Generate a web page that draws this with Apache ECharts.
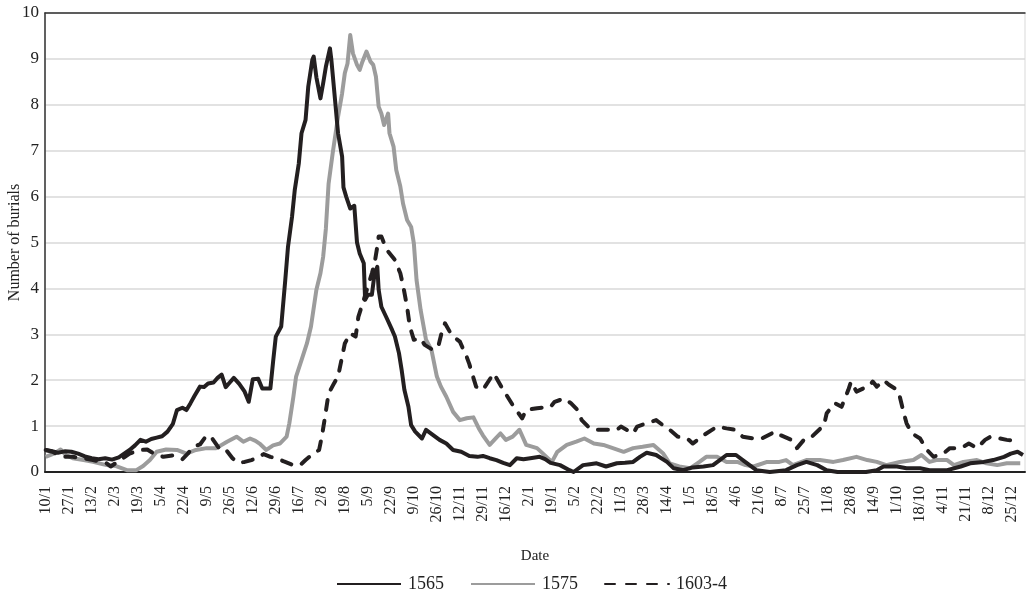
<!DOCTYPE html>
<html>
<head>
<meta charset="utf-8">
<script src="https://cdn.jsdelivr.net/npm/echarts@6/dist/echarts.min.js"></script>
<style>html,body{margin:0;padding:0;background:#fff}#c{width:1026px;height:596px}</style>
</head>
<body>
<div id="c"></div>
<script>
// Tick labels (every 17 days, starting 10/1)
const tickLabels = ['10/1','27/1','13/2','2/3','19/3','5/4','22/4','9/5','26/5','12/6','29/6','16/7','2/8','19/8','5/9','22/9','9/10','26/10','12/11','29/11','16/12','2/1','19/1','5/2','22/2','11/3','28/3','14/4','1/5','18/5','4/6','21/6','8/7','25/7','11/8','28/8','14/9','1/10','18/10','4/11','21/11','8/12','25/12'];
const dayCount = 724;
const tickStep = 17;

// [day index from 10/1, number of burials]
const s1565 = [[0,0.48],[4,0.46],[9,0.42],[14,0.45],[19,0.44],[24,0.40],[29,0.34],[34,0.30],[39,0.28],[44,0.30],[49,0.27],[54,0.32],[58,0.40],[62,0.48],[66,0.58],[70,0.70],[74,0.66],[78,0.72],[82,0.75],[86,0.78],[90,0.88],[94,1.05],[97,1.35],[101,1.40],[104,1.35],[107,1.50],[110,1.66],[114,1.86],[117,1.85],[120,1.93],[124,1.95],[127,2.05],[130,2.12],[133,1.85],[136,1.95],[139,2.05],[143,1.92],[147,1.75],[150,1.53],[153,2.02],[157,2.03],[160,1.82],[163,1.82],[166,1.82],[168,2.40],[170,2.95],[174,3.17],[177,4.18],[179,4.90],[182,5.56],[184,6.14],[187,6.72],[189,7.38],[192,7.67],[194,8.40],[197,8.98],[198,9.05],[200,8.60],[203,8.14],[205,8.47],[207,8.83],[210,9.23],[211,9.00],[214,8.03],[216,7.38],[219,6.87],[220,6.20],[222,6.00],[225,5.74],[228,5.80],[230,5.00],[232,4.76],[235,4.55],[236,3.75],[238,3.86],[241,3.86],[243,4.33],[245,4.47],[246,3.97],[248,3.60],[252,3.35],[256,3.09],[258,2.95],[261,2.59],[263,2.22],[265,1.79],[268,1.42],[270,1.02],[273,0.88],[278,0.73],[281,0.92],[286,0.81],[291,0.70],[296,0.62],[301,0.48],[307,0.44],[313,0.35],[319,0.33],[323,0.35],[328,0.30],[333,0.26],[338,0.20],[343,0.15],[348,0.30],[353,0.28],[358,0.30],[365,0.33],[369,0.28],[373,0.20],[380,0.15],[387,0.04],[390,0.00],[397,0.15],[402,0.17],[407,0.19],[414,0.12],[422,0.19],[428,0.20],[434,0.22],[439,0.33],[444,0.42],[451,0.37],[459,0.22],[464,0.08],[471,0.04],[478,0.10],[486,0.12],[493,0.15],[498,0.26],[503,0.37],[510,0.37],[515,0.26],[520,0.15],[525,0.04],[535,0.00],[547,0.04],[555,0.15],[562,0.22],[570,0.15],[577,0.04],[585,0.00],[592,0.00],[606,0.00],[614,0.04],[619,0.12],[629,0.12],[636,0.08],[646,0.08],[653,0.04],[666,0.04],[676,0.12],[683,0.19],[693,0.22],[700,0.26],[708,0.33],[713,0.40],[718,0.44],[722,0.37]];

const s1575 = [[0,0.33],[6,0.40],[11,0.49],[15,0.37],[20,0.30],[28,0.26],[35,0.22],[45,0.15],[52,0.13],[60,0.04],[67,0.04],[72,0.13],[77,0.26],[82,0.44],[89,0.49],[97,0.48],[104,0.40],[111,0.48],[119,0.52],[126,0.52],[134,0.66],[141,0.77],[146,0.66],[151,0.73],[155,0.68],[158,0.62],[163,0.48],[168,0.58],[173,0.62],[178,0.77],[180,1.06],[183,1.64],[185,2.08],[189,2.44],[193,2.80],[196,3.17],[200,3.97],[203,4.33],[205,4.69],[207,5.30],[209,6.28],[212,6.94],[216,7.74],[219,8.25],[221,8.69],[223,8.90],[225,9.52],[227,9.12],[230,8.87],[232,8.76],[234,8.94],[237,9.16],[240,8.94],[242,8.87],[244,8.61],[246,7.96],[248,7.81],[250,7.56],[253,7.81],[254,7.38],[257,7.09],[259,6.58],[262,6.22],[264,5.85],[267,5.49],[270,5.34],[272,4.98],[274,4.18],[277,3.53],[281,2.88],[285,2.66],[289,2.08],[292,1.86],[296,1.64],[301,1.31],[306,1.13],[311,1.17],[316,1.19],[320,0.95],[323,0.80],[328,0.59],[333,0.75],[336,0.84],[340,0.70],[345,0.77],[350,0.92],[355,0.59],[363,0.52],[370,0.33],[374,0.22],[378,0.44],[385,0.59],[392,0.66],[398,0.73],[405,0.62],[412,0.59],[419,0.52],[427,0.44],[434,0.52],[441,0.55],[449,0.59],[456,0.41],[461,0.19],[468,0.12],[476,0.08],[483,0.22],[488,0.33],[496,0.33],[503,0.22],[511,0.22],[517,0.15],[523,0.12],[533,0.22],[542,0.22],[547,0.26],[552,0.15],[562,0.26],[572,0.26],[582,0.22],[589,0.26],[599,0.33],[607,0.26],[614,0.22],[621,0.15],[631,0.22],[641,0.26],[647,0.37],[653,0.22],[658,0.26],[666,0.26],[671,0.15],[678,0.22],[688,0.26],[695,0.19],[703,0.15],[710,0.19],[720,0.19]];

const s1603 = [[0,0.48],[5,0.44],[13,0.33],[20,0.33],[28,0.30],[35,0.26],[45,0.19],[48,0.12],[55,0.26],[62,0.40],[70,0.48],[75,0.49],[80,0.40],[87,0.33],[94,0.36],[101,0.28],[105,0.40],[109,0.55],[114,0.60],[119,0.80],[123,0.73],[129,0.48],[133,0.49],[138,0.30],[142,0.20],[147,0.22],[152,0.26],[156,0.30],[161,0.39],[166,0.33],[171,0.30],[176,0.23],[183,0.15],[188,0.15],[192,0.26],[198,0.41],[202,0.48],[204,0.77],[206,1.13],[209,1.71],[213,1.93],[216,2.08],[219,2.51],[221,2.80],[225,3.02],[229,2.95],[231,3.38],[235,3.75],[238,4.04],[241,4.33],[243,4.55],[245,4.91],[246,5.13],[248,5.13],[252,4.84],[258,4.62],[262,4.33],[264,4.07],[267,3.60],[269,3.17],[272,2.88],[277,2.91],[280,2.77],[286,2.66],[290,2.73],[293,3.09],[295,3.24],[300,2.98],[306,2.84],[311,2.51],[313,2.35],[316,2.05],[318,1.86],[323,1.79],[331,2.15],[338,1.79],[345,1.46],[352,1.17],[355,1.35],[363,1.39],[373,1.42],[376,1.53],[383,1.60],[388,1.50],[393,1.35],[396,1.13],[402,0.95],[407,0.92],[414,0.92],[422,0.92],[425,0.99],[434,0.84],[437,0.99],[444,1.06],[451,1.13],[456,1.02],[461,0.92],[467,0.77],[474,0.73],[478,0.62],[486,0.80],[496,0.99],[503,0.95],[509,0.92],[515,0.77],[523,0.73],[529,0.73],[539,0.88],[543,0.80],[551,0.70],[555,0.52],[561,0.73],[566,0.77],[575,1.02],[577,1.28],[583,1.50],[588,1.42],[593,1.79],[595,1.97],[599,1.75],[604,1.82],[608,1.86],[611,1.97],[614,1.86],[619,2.00],[623,1.90],[629,1.79],[631,1.64],[634,1.28],[636,1.06],[640,0.84],[646,0.73],[651,0.48],[656,0.33],[663,0.40],[668,0.52],[676,0.52],[682,0.62],[688,0.52],[694,0.70],[698,0.77],[705,0.73],[710,0.70],[715,0.68],[720,0.65]];

const seriesNames = ['1565','1575','1603-4'];
const yTicks = {min: 0, max: 10, step: 1};

const days = Array.from({length: dayCount}, (_, i) => String(i));
const FONT = "'Liberation Serif','Times New Roman',serif";
const BLACK = '#231f20', GREY = '#9c9c9c';

const chart = echarts.init(document.getElementById('c'), null, {renderer: 'canvas'});
chart.setOption({
  animation: false,
  backgroundColor: '#fff',
  grid: {left: 45, right: 1, top: 13, bottom: 124, containLabel: false, outerBoundsMode: 'none',
         show: true, borderColor: '#d9d9d9', borderWidth: 1},
  legend: {
    top: 570, left: 331, itemWidth: 64, itemHeight: 12, itemGap: 26,
    itemStyle: {opacity: 0},
    textStyle: {fontFamily: FONT, fontSize: 18, color: '#222', padding: [0, 0, 0, 2]},
    data: seriesNames
  },
  xAxis: [{
    type: 'category', data: days, boundaryGap: true,
    name: 'Date', nameLocation: 'middle', nameGap: 77, nameMoveOverlap: false,
    nameTextStyle: {fontFamily: FONT, fontSize: 15, color: '#222'},
    axisLine: {lineStyle: {color: '#222', width: 2}},
    axisTick: {show: false},
    axisLabel: {
      rotate: 90, margin: 14, fontFamily: FONT, fontSize: 16, color: '#222',
      interval: (i) => i % tickStep === 0,
      formatter: (v, i) => (i % tickStep === 0 ? (tickLabels[i / tickStep] || '') : '')
    },
    splitLine: {show: false}
  }, {
    type: 'category', data: days, position: 'top',
    axisLine: {lineStyle: {color: '#333', width: 1.5}},
    axisTick: {show: false}, axisLabel: {show: false}, splitLine: {show: false}
  }],
  yAxis: {
    type: 'value', min: yTicks.min, max: yTicks.max, interval: yTicks.step,
    name: 'Number of burials', nameLocation: 'middle', nameGap: 22, nameMoveOverlap: false,
    nameTextStyle: {fontFamily: FONT, fontSize: 16, color: '#222'},
    axisLine: {show: true, lineStyle: {color: '#333', width: 1.5}},
    axisTick: {show: false},
    axisLabel: {fontFamily: FONT, fontSize: 17, color: '#222', margin: 6},
    splitLine: {lineStyle: {color: '#d9d9d9', width: 1.5}}
  },
  series: [
    {name: seriesNames[0], type: 'line', data: s1565, symbol: 'none', z: 3,
     lineStyle: {color: BLACK, width: 4, join: 'round'}, itemStyle: {color: BLACK}},
    {name: seriesNames[1], type: 'line', data: s1575, symbol: 'none', z: 2,
     lineStyle: {color: GREY, width: 4, join: 'round'}, itemStyle: {color: GREY}},
    {name: seriesNames[2], type: 'line', data: s1603, symbol: 'none', z: 4,
     lineStyle: {color: BLACK, width: 4, type: [10, 11], cap: 'round', join: 'round'}, itemStyle: {color: BLACK}}
  ]
});
</script>
</body>
</html>
